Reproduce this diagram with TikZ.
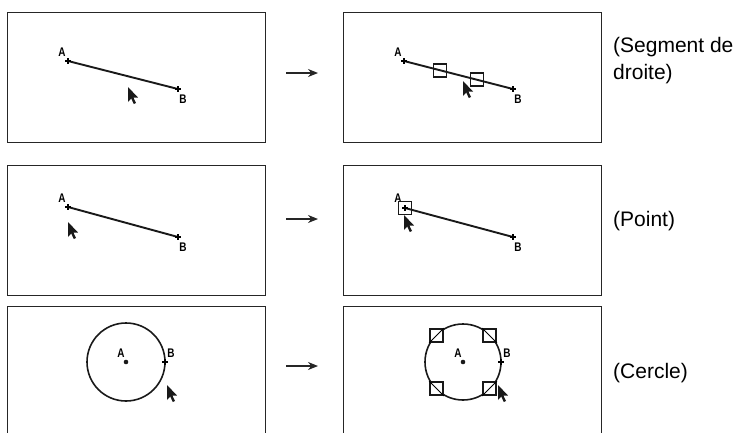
\documentclass[tikz,border=0pt]{standalone}
\usepackage{fontspec}
\setmainfont{Liberation Sans}
\usetikzlibrary{arrows.meta,calc}
\newcommand{\pxlbl}[1]{\scalebox{0.8}[1]{#1}}
\begin{document}
\begin{tikzpicture}[x=1pt,y=-1pt,
  frame/.style={draw=black!85,line width=1.3pt,inner sep=0pt,anchor=north west,minimum width=258pt,minimum height=130pt},
  seg/.style={line width=1.9pt,black!90},
  crc/.style={line width=1.6pt,black!90},
  lbl/.style={font=\fontsize{12.5}{12.5}\selectfont\bfseries,inner sep=0pt},
  arr/.style={line width=1.2pt,black!85,-{Stealth[length=10pt,width=8pt]}},
  caption/.style={font=\fontsize{21}{27}\selectfont,anchor=base west,inner sep=0pt,align=left},
  sel/.style={draw=black!90,line width=1.7pt,minimum size=13pt,inner sep=0pt},
  bigsel/.style={draw=black!90,line width=2.3pt,fill=white,minimum size=12.5pt,inner sep=0pt},
  plus/.pic={\draw[line width=1.4pt] (-3,0) -- (3,0) (0,-3) -- (0,3);},
  cursor/.pic={\fill[black!90] (0,0) -- (0,15) -- (3.2,11.5) -- (5.8,17) -- (8,16) -- (5.4,10.5) -- (10,10.5) -- cycle;}
]
\path[use as bounding box,clip] (0,0) rectangle (739,432);

% ---------- frames ----------
\node[frame] (L1) at (7,12) {};
\node[frame] (R1) at (343,12) {};
\node[frame] (L2) at (7,165) {};
\node[frame] (R2) at (343,165) {};
\node[frame,minimum height=160pt] (L3) at (7,306) {};
\node[frame,minimum height=160pt] (R3) at (343,306) {};

% ---------- row 1 left ----------
\coordinate (A1) at (68,61);
\coordinate (B1) at (178,89);
\draw[seg] (A1) -- (B1);
\pic at (A1) {plus};
\pic at (B1) {plus};
\node[lbl] (A1l) at ($(A1)+(-6,-9)$) {\pxlbl{A}};
\node[lbl] (B1l) at ($(B1)+(5,10)$) {\pxlbl{B}};
\pic at (128,87) {cursor};

% ---------- row 1 right ----------
\coordinate (A2) at (404,61);
\coordinate (B2) at (513,89);
\draw[seg] (A2) -- (B2);
\pic at (A2) {plus};
\pic at (B2) {plus};
\node[lbl] (A2l) at ($(A2)+(-6,-9)$) {\pxlbl{A}};
\node[lbl] (B2l) at ($(B2)+(5,10)$) {\pxlbl{B}};
\node[sel] (s11) at ($(A2)!0.33!(B2)$) {};
\node[sel] (s12) at ($(A2)!0.67!(B2)$) {};
\pic at (463,81) {cursor};

% ---------- row 2 left ----------
\coordinate (A3) at (68,207);
\coordinate (B3) at (178,237);
\draw[seg] (A3) -- (B3);
\pic at (A3) {plus};
\pic at (B3) {plus};
\node[lbl] (A3l) at ($(A3)+(-6,-9)$) {\pxlbl{A}};
\node[lbl] (B3l) at ($(B3)+(5,10)$) {\pxlbl{B}};
\pic at (68,222) {cursor};

% ---------- row 2 right ----------
\coordinate (A4) at (405,208);
\coordinate (B4) at (513,237);
\draw[seg] (A4) -- (B4);
\pic at (A4) {plus};
\pic at (B4) {plus};
\node[lbl] (A4l) at ($(A4)+(-7,-10)$) {\pxlbl{A}};
\node[lbl] (B4l) at ($(B4)+(5,10)$) {\pxlbl{B}};
\node[sel] (s21) at (A4) {};
\pic at (404,215) {cursor};

% ---------- row 3 left ----------
\coordinate (C5) at (126,362);
\draw[crc] (C5) circle[radius=39];
\coordinate (P5) at (165,362);
\fill[black!90] (C5) circle[radius=2.3];
\pic at (P5) {plus};
\node[lbl] (A5l) at ($(C5)+(-5,-9)$) {\pxlbl{A}};
\node[lbl] (B5l) at ($(P5)+(6,-9)$) {\pxlbl{B}};
\pic at (167,385) {cursor};

% ---------- row 3 right ----------
\coordinate (C6) at (463,362);
\draw[crc] (C6) circle[radius=38];
\coordinate (P6) at (501,362);
\fill[black!90] (C6) circle[radius=2.3];
\pic at (P6) {plus};
\node[lbl] (A6l) at ($(C6)+(-5,-9)$) {\pxlbl{A}};
\node[lbl] (B6l) at ($(P6)+(6,-9)$) {\pxlbl{B}};
\node[bigsel] (s31) at ($(C6)+(-26.5,-26.5)$) {};
\node[bigsel] (s32) at ($(C6)+(26.5,-26.5)$) {};
\node[bigsel] (s33) at ($(C6)+(-26.5,26.5)$) {};
\node[bigsel] (s34) at ($(C6)+(26.5,26.5)$) {};
\draw[line width=1pt] (s31.south west) -- (s31.north east);
\draw[line width=1pt] (s34.south west) -- (s34.north east);
\draw[line width=1pt] (s32.north west) -- (s32.south east);
\draw[line width=1pt] (s33.north west) -- (s33.south east);
\pic at (498,385) {cursor};

% ---------- arrows ----------
\coordinate (a1s) at (286,73); \coordinate (a1e) at (318,73);
\coordinate (a2s) at (286,219); \coordinate (a2e) at (318,219);
\coordinate (a3s) at (286,366); \coordinate (a3e) at (318,366);
\draw[arr] (a1s) -- (a1e);
\draw[arr] (a2s) -- (a2e);
\draw[arr] (a3s) -- (a3e);

% ---------- captions ----------
\node[caption] (t1) at (613,79) {(Segment de\\droite)};
\node[caption] (t2) at (613,226) {(Point)};
\node[caption] (t3) at (613,378) {(Cercle)};
\end{tikzpicture}
\end{document}
